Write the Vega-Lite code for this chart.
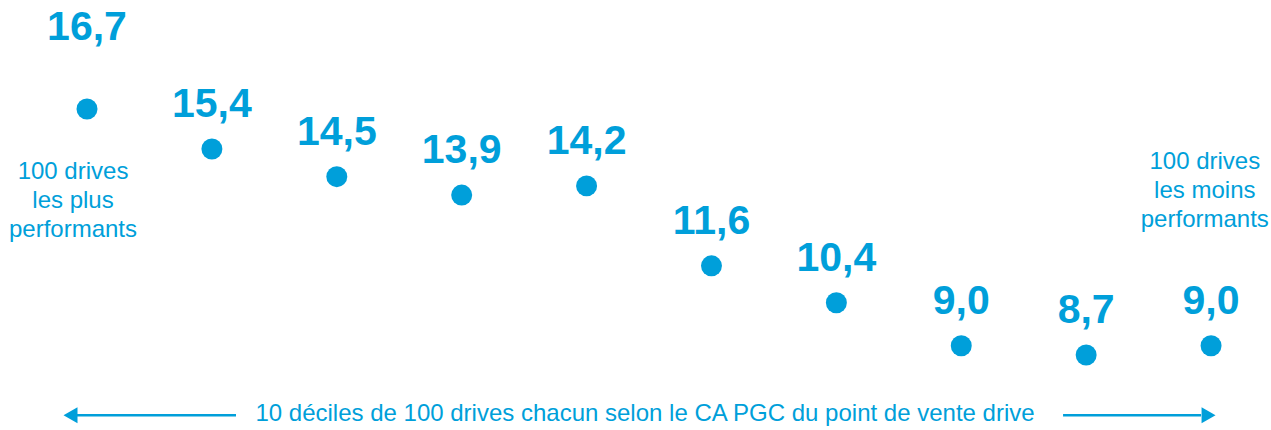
{
  "$schema": "https://vega.github.io/schema/vega-lite/v6.json",
  "autosize": {"type": "fit", "contains": "padding"},
  "width": 1271,
  "height": 430,
  "padding": 0,
  "background": "white",
  "config": {"view": {"stroke": null}, "font": "Liberation Sans"},
  "datasets": {
    "points": [
      {"decile": 1, "value": 16.7, "label": "16,7"},
      {"decile": 2, "value": 15.4, "label": "15,4"},
      {"decile": 3, "value": 14.5, "label": "14,5"},
      {"decile": 4, "value": 13.9, "label": "13,9"},
      {"decile": 5, "value": 14.2, "label": "14,2"},
      {"decile": 6, "value": 11.6, "label": "11,6"},
      {"decile": 7, "value": 10.4, "label": "10,4"},
      {"decile": 8, "value": 9.0, "label": "9,0"},
      {"decile": 9, "value": 8.7, "label": "8,7"},
      {"decile": 10, "value": 9.0, "label": "9,0"}
    ],
    "notes": [
      {"x": 0.888, "y": 14.65, "text": ["100 drives", "les plus", "performants"]},
      {"x": 9.95, "y": 14.976, "text": ["100 drives", "les moins", "performants"]},
      {"x": 5.468, "y": 6.78, "text": ["10 déciles de 100 drives chacun selon le CA PGC du point de vente drive"]}
    ],
    "arrows": [
      {"x": 0.9, "x2": 2.193, "y": 6.74},
      {"x": 8.815, "x2": 9.92, "y": 6.74}
    ],
    "heads": [
      {"x": 0.868, "y": 6.74, "dir": "left"},
      {"x": 9.98, "y": 6.74, "dir": "right"}
    ]
  },
  "layer": [
    {
      "data": {"name": "arrows"},
      "mark": {"type": "rule", "color": "#009FDA", "strokeWidth": 2.7},
      "encoding": {
        "x": {"field": "x", "type": "quantitative", "scale": {"domain": [0.3034, 10.48], "nice": false, "zero": false}, "axis": null},
        "x2": {"field": "x2"},
        "y": {"field": "y", "type": "quantitative", "scale": {"domain": [6.261, 20.245], "nice": false, "zero": false}, "axis": null}
      }
    },
    {
      "data": {"name": "heads"},
      "mark": {"type": "point", "filled": true, "opacity": 1, "color": "#009FDA", "size": 260},
      "encoding": {
        "x": {"field": "x", "type": "quantitative"},
        "y": {"field": "y", "type": "quantitative"},
        "shape": {"field": "dir", "type": "nominal", "scale": {"domain": ["left", "right"], "range": ["triangle-left", "triangle-right"]}, "legend": null}
      }
    },
    {
      "data": {"name": "points"},
      "mark": {"type": "circle", "color": "#009FDA", "opacity": 1, "size": 440},
      "encoding": {
        "x": {"field": "decile", "type": "quantitative"},
        "y": {"field": "value", "type": "quantitative"}
      }
    },
    {
      "data": {"name": "points"},
      "transform": [{"filter": "datum.decile > 1"}],
      "mark": {"type": "text", "color": "#009FDA", "fontSize": 41, "fontWeight": "bold", "baseline": "alphabetic", "dy": -32},
      "encoding": {
        "x": {"field": "decile", "type": "quantitative"},
        "y": {"field": "value", "type": "quantitative"},
        "text": {"field": "label"}
      }
    },
    {
      "data": {"name": "points"},
      "transform": [{"filter": "datum.decile == 1"}],
      "mark": {"type": "text", "color": "#009FDA", "fontSize": 41, "fontWeight": "bold", "baseline": "alphabetic", "dy": -69},
      "encoding": {
        "x": {"field": "decile", "type": "quantitative"},
        "y": {"field": "value", "type": "quantitative"},
        "text": {"field": "label"}
      }
    },
    {
      "data": {"name": "notes"},
      "mark": {"type": "text", "color": "#009FDA", "fontSize": 24, "baseline": "middle", "align": "center", "lineHeight": 29},
      "encoding": {
        "x": {"field": "x", "type": "quantitative"},
        "y": {"field": "y", "type": "quantitative"},
        "text": {"field": "text"}
      }
    }
  ]
}
